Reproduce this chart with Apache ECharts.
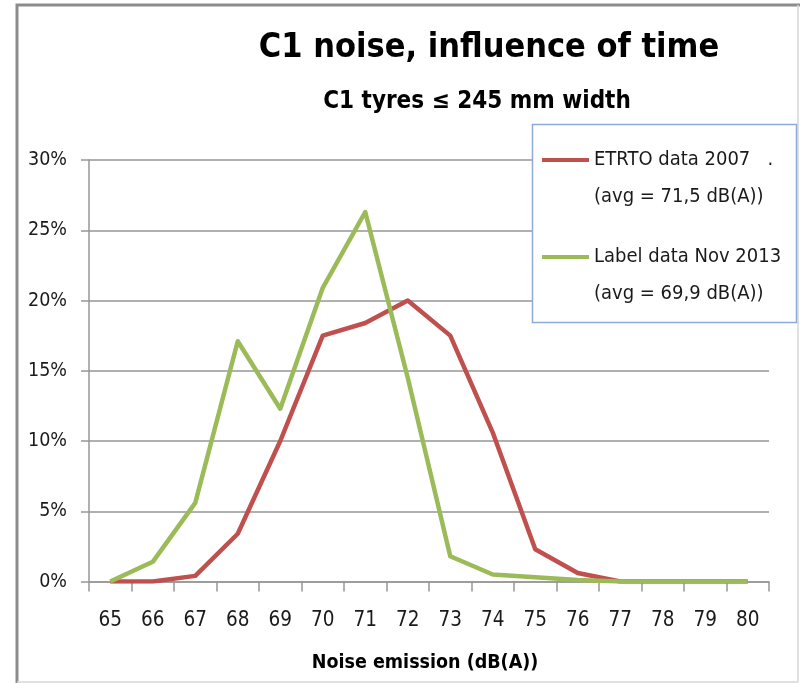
<!DOCTYPE html>
<html>
<head>
<meta charset="utf-8">
<script src="https://cdn.jsdelivr.net/npm/echarts@6/dist/echarts.min.js"></script>
<style>
html,body{margin:0;padding:0;background:#fff;}
#chart{width:801px;height:683px;}
</style>
</head>
<body>
<div id="chart"></div>
<script>
// ---- data ----
var categories = ['65','66','67','68','69','70','71','72','73','74','75','76','77','78','79','80'];
var seriesNames = ['ETRTO data 2007   .', 'Label data Nov 2013'];
var seriesAvg = ['(avg = 71,5 dB(A))', '(avg = 69,9 dB(A))'];
var etrto2007 = [0, 0, 0.4, 3.4, 10.0, 17.5, 18.4, 20.0, 17.5, 10.6, 2.3, 0.6, 0, 0, 0, 0];
var label2013 = [0, 1.4, 5.6, 17.1, 12.3, 20.9, 26.3, 14.5, 1.8, 0.5, 0.3, 0.1, 0, 0, 0, 0];
var titleText = 'C1 noise, influence of time';
var subtitleText = 'C1 tyres \u2264 245 mm width';
var xAxisName = 'Noise emission (dB(A))';

var FONT = "'DejaVu Sans Condensed', 'Liberation Sans Narrow', sans-serif";
var chart = echarts.init(document.getElementById('chart'), null, {renderer: 'canvas'});

var option = {
  backgroundColor: '#ffffff',
  animation: false,
  title: [
    {text: titleText, left: 489, top: 31, textAlign: 'center', padding: 0,
     textStyle: {fontFamily: FONT, fontSize: 34, fontWeight: 'bold', color: '#000', lineHeight: 34}},
    {text: subtitleText, left: 477, top: 90, textAlign: 'center', padding: 0,
     textStyle: {fontFamily: FONT, fontSize: 24, fontWeight: 'bold', color: '#000', lineHeight: 24}}
  ],
  graphic: [
    {type: 'polyline', z: 1, silent: true,
     shape: {points: [[17, 683], [17, 5], [800, 5]]},
     style: {stroke: '#8c8c8c', lineWidth: 3, fill: null}},
    {type: 'polyline', z: 1, silent: true,
     shape: {points: [[798, 5], [798, 682], [17, 682]]},
     style: {stroke: '#d8d8d8', lineWidth: 1.5, fill: null}},
    {type: 'rect', z: 3, silent: true,
     shape: {x: 532.5, y: 124.5, width: 264, height: 198},
     style: {fill: '#ffffff', stroke: '#8eaadb', lineWidth: 1.5}}
  ],
  legend: {
    show: true,
    z: 4,
    orient: 'vertical',
    left: 542,
    top: 104.5,
    padding: 0,
    itemWidth: 47,
    itemHeight: 4,
    itemGap: -14,
    icon: 'rect',
    data: seriesNames,
    formatter: function (name) {
      var i = seriesNames.indexOf(name);
      return '\n' + name + '\n' + seriesAvg[i];
    },
    textStyle: {fontFamily: FONT, fontSize: 20, color: '#1a1a1a', lineHeight: 37}
  },
  grid: {left: 89, right: 32, top: 160, bottom: 101.5, containLabel: false, outerBoundsMode: 'none'},
  xAxis: {
    type: 'category',
    data: categories,
    boundaryGap: true,
    name: xAxisName,
    nameLocation: 'middle',
    nameGap: 71.5,
    nameTextStyle: {fontFamily: FONT, fontSize: 19.5, fontWeight: 'bold', color: '#000', lineHeight: 19.5, padding: [0, 8, 0, 0]},
    axisLine: {show: true, lineStyle: {color: '#969696', width: 1.5}},
    axisTick: {show: true, length: 10, inside: false, lineStyle: {color: '#969696', width: 1.5}},
    axisLabel: {fontFamily: FONT, fontSize: 20.5, color: '#1a1a1a', margin: 28.5, lineHeight: 20.5, interval: 0},
    splitLine: {show: false}
  },
  yAxis: {
    type: 'value',
    min: 0,
    max: 30,
    interval: 5,
    axisLine: {show: true, lineStyle: {color: '#969696', width: 1.5}},
    axisTick: {show: true, length: 8, inside: false, lineStyle: {color: '#969696', width: 1.5}},
    axisLabel: {fontFamily: FONT, fontSize: 19.5, color: '#1a1a1a', margin: 22, formatter: '{value}%'},
    splitLine: {show: true, lineStyle: {color: '#969696', width: 1.5}}
  },
  series: [
    {name: seriesNames[0], type: 'line', data: etrto2007, showSymbol: false, symbol: 'none',
     z: 2, color: '#c0504d', lineStyle: {color: '#c0504d', width: 4.5, join: 'round'}},
    {name: seriesNames[1], type: 'line', data: label2013, showSymbol: false, symbol: 'none',
     z: 2, color: '#9bbb59', lineStyle: {color: '#9bbb59', width: 4.5, join: 'round'}}
  ]
};
chart.setOption(option);
</script>
</body>
</html>
